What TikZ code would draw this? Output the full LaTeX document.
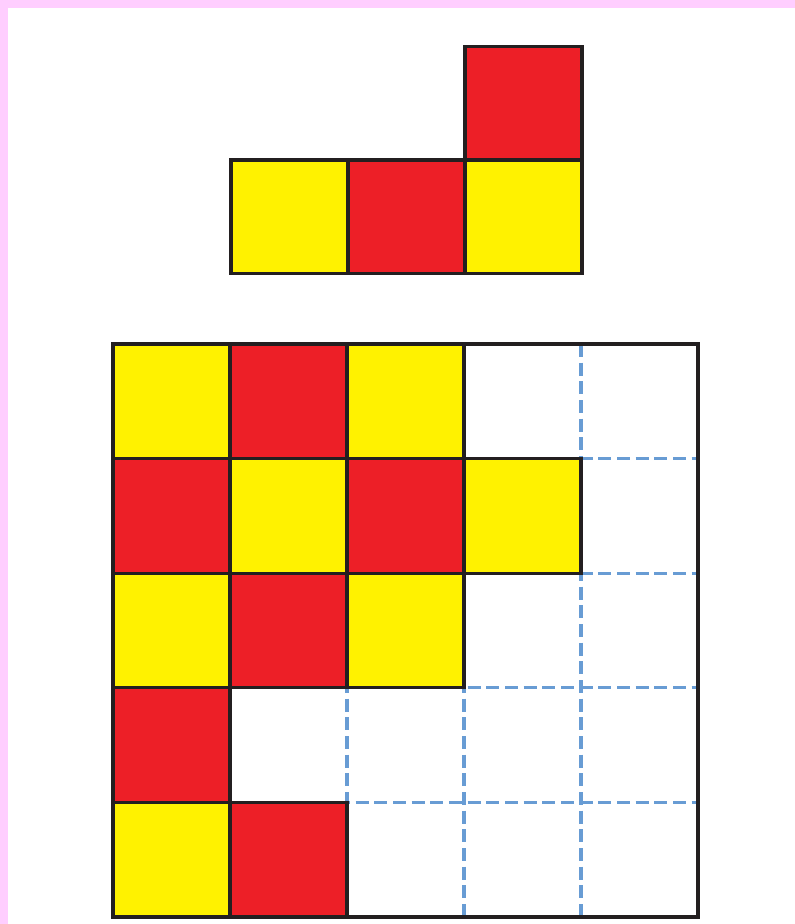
\documentclass[tikz,border=0pt]{standalone}
\usetikzlibrary{positioning}
\definecolor{rosa}{RGB}{255,206,255}
\definecolor{rojo}{RGB}{237,31,39}
\definecolor{amarillo}{RGB}{255,242,0}
\definecolor{azulguia}{RGB}{104,156,212}
\definecolor{casinegro}{RGB}{35,31,32}
\tikzset{
  celda/.style={
    draw=casinegro,
    line width=2.5pt,
    line join=miter
  },
  guia/.style={
    azulguia,
    line width=2.3pt,
    dash pattern=on 9.8pt off 4.2pt
  },
  borde/.style={
    draw=casinegro,
    line width=2.5pt
  }
}
\begin{document}
\begin{tikzpicture}[x=0.75pt,y=-0.75pt]
\useasboundingbox (0,0) rectangle (795,924);
\fill[rosa] (0,0) rectangle (795,8);
\fill[rosa] (0,0) rectangle (8,924);
% pieza de arriba
\foreach \x/\y/\c in {231/160/amarillo,348/160/rojo,465/160/amarillo,465/46.5/rojo}
  \draw[celda,fill=\c] (\x,\y) rectangle ++(117,113.5);
% cuadricula guia
\foreach \i in {1,...,4} {
  \draw[guia] (113+117*\i,344) -- (113+117*\i,917);
  \draw[guia] (113,344+114.6*\i) -- (698,344+114.6*\i);
}
% fichas colocadas
\foreach \i/\j/\c in {0/0/amarillo,1/0/rojo,2/0/amarillo,
                      0/1/rojo,1/1/amarillo,2/1/rojo,3/1/amarillo,
                      0/2/amarillo,1/2/rojo,2/2/amarillo,
                      0/3/rojo,
                      0/4/amarillo,1/4/rojo}
  \draw[celda,fill=\c] (113+117*\i,344+114.6*\j) rectangle ++(117,114.6);
\draw[borde] (113,344) rectangle (698,917);
\end{tikzpicture}
\end{document}
